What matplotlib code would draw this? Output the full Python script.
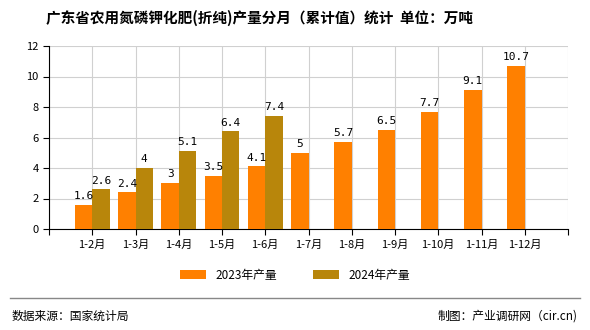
import numpy as np
import matplotlib
matplotlib.use('Agg')
import matplotlib.pyplot as plt

plt.rcParams['font.family'] = ['Noto Sans CJK SC', 'DejaVu Sans']

months = ['1-2月', '1-3月', '1-4月', '1-5月', '1-6月', '1-7月', '1-8月', '1-9月', '1-10月', '1-11月', '1-12月']
v2023 = [1.6, 2.4, 3, 3.5, 4.1, 5, 5.7, 6.5, 7.7, 9.1, 10.7]
v2024 = [2.6, 4, 5.1, 6.4, 7.4]
labels2023 = ['1.6', '2.4', '3', '3.5', '4.1', '5', '5.7', '6.5', '7.7', '9.1', '10.7']
labels2024 = ['2.6', '4', '5.1', '6.4', '7.4']

c2023 = '#FF8000'
c2024 = '#B8860B'

fig = plt.figure(figsize=(5.9, 3.3), dpi=100)
ax = fig.add_axes([49/590, 1-229/330, 519/590, 183/330])

x = np.arange(len(months))
w = 0.4
ax.bar(x[:len(v2023)] - w/2, v2023, w, color=c2023, label='2023年产量', zorder=3)
ax.bar(x[:len(v2024)] + w/2, v2024, w, color=c2024, label='2024年产量', zorder=3)

for i, (v, t) in enumerate(zip(v2023, labels2023)):
    ax.text(i - w/2, v + 0.25, t, ha='center', va='bottom', fontsize=8, family='DejaVu Sans Mono', zorder=4)
for i, (v, t) in enumerate(zip(v2024, labels2024)):
    ax.text(i + w/2, v + 0.25, t, ha='center', va='bottom', fontsize=8, family='DejaVu Sans Mono', zorder=4)

ax.set_xlim(-1, len(months))
ax.set_ylim(0, 12)
ax.set_yticks(range(0, 13, 2))
ax.set_xticks(np.arange(-1, len(months) + 1))
ax.set_xticklabels([''] + months + [''], fontsize=8)
ax.tick_params(axis='y', length=4, direction='out', color='black', labelsize=8)
ax.tick_params(axis='x', length=4, direction='out', color='black')
ax.grid(True, color='#d0d0d0', linewidth=0.8, zorder=0)
for s in ['top', 'right']:
    ax.spines[s].set_visible(False)
ax.spines['bottom'].set_color('black')
ax.spines['left'].set_color('black')

fig.legend(loc='center', bbox_to_anchor=(0.5, 1-275/330), ncol=2, frameon=False,
           fontsize=8.5, handlelength=2.2, handleheight=0.8, columnspacing=3)

fig.text(260/590, 1-18/330, '广东省农用氮磷钾化肥(折纯)产量分月（累计值）统计  单位：万吨',
         ha='center', va='center', fontsize=10.5, fontweight='bold')

fig.add_artist(plt.Line2D([10/590, 580/590], [1-298/330, 1-298/330], color='#888888', linewidth=1))
fig.text(12/590, 1-316/330, '数据来源：国家统计局', ha='left', va='center', fontsize=8.5)
fig.text(578/590, 1-316/330, '制图：产业调研网（cir.cn)', ha='right', va='center', fontsize=8.5)

fig.savefig('out.png', dpi=100)
